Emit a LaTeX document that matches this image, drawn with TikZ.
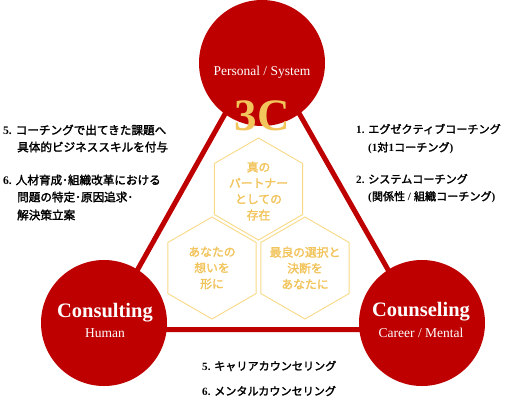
\documentclass[tikz,border=0pt]{standalone}
\usepackage{fontspec}
\setmainfont{Liberation Serif}
\newfontfamily\jp[AutoFakeBold=2]{Noto Sans CJK JP}
\usetikzlibrary{shapes.geometric}
\definecolor{cred}{HTML}{BE0000}
\definecolor{hexline}{HTML}{F8DA86}
\definecolor{gold}{HTML}{F2C45C}
\tikzset{
  circ/.style={circle, fill=cred, minimum size=126pt, inner sep=0pt},
  tri/.style={draw=cred, line width=5pt, line join=miter},
  hexa/.style={regular polygon, regular polygon sides=6, shape border rotate=30,
    minimum size=102pt, inner sep=0pt, draw=hexline, line width=0.9pt},
  hextxt/.style={text=gold, align=center, inner sep=0pt,
    font=\jp\bfseries\fontsize{11.8}{16}\selectfont},
  big/.style={text=white, inner sep=0pt, font=\bfseries\fontsize{20.5}{22}\selectfont},
  small/.style={text=white, inner sep=0pt, font=\fontsize{13.5}{15}\selectfont},
  item/.style={anchor=west, inner sep=0pt, text=black, font=\fontsize{11.6}{14}\selectfont},
  itemr/.style={item, font=\fontsize{11.1}{14}\selectfont},
}
\newcommand{\jb}[1]{{\jp\bfseries #1}}
\begin{document}
\begin{tikzpicture}[x=1pt,y=-1pt]
\useasboundingbox[fill=white] (0,0) rectangle (511,410);
% triangle
\coordinate (tv) at (262,48);
\coordinate (lv) at (104,329.5);
\coordinate (rv) at (422,329.5);
\draw[tri] (tv) -- (lv) -- (rv) -- cycle;
% circles
\node[circ] (ctop) at (262,63) {};
\node[circ] (cleft) at (104,323) {};
\node[circ] (cright) at (422,323) {};
\node[small] (ttop) at (262,72) {Personal / System};
\node[big] (tleft) at (105,313) {Consulting};
\node[small] (tleft2) at (105,333) {Human};
\node[big] (tright) at (421,312) {Counseling};
\node[small] (tright2) at (421,333) {Career / Mental};
\node[text=gold, inner sep=0pt, font=\bfseries\fontsize{45}{45}\selectfont] (three) at (262,116) {3C};
% hexagons
\node[hexa] (h1) at (258.5,189) {};
\node[hexa] (h2) at (212,268) {};
\node[hexa] (h3) at (305,268) {};
\node[hextxt] (h1t) at (258.5,191) {真の\\パートナー\\としての\\存在};
\node[hextxt] (h2t) at (212,268) {あなたの\\想いを\\形に};
\node[hextxt] (h3t) at (305,268) {最良の選択と\\決断を\\あなたに};
% left texts
\node[item] (l1) at (3,130) {\textbf{5.} \jb{コーチングで出てきた課題へ}};
\node[item] (l2) at (17,147) {\jb{具体的ビジネススキルを付与}};
\node[item] (l3) at (3,180) {\textbf{6.} \jb{人材育成･組織改革における}};
\node[item] (l4) at (17,197) {\jb{問題の特定･原因追求･}};
\node[item] (l5) at (17,215) {\jb{解決策立案}};
% right texts
\node[itemr] (r1) at (356,129) {\textbf{1.} \jb{エグゼクティブコーチング}};
\node[itemr] (r2) at (368,148) {\textbf{(1}\jb{対}\textbf{1}\jb{コーチング}\textbf{)}};
\node[itemr] (r3) at (356,179) {\textbf{2.} \jb{システムコーチング}};
\node[itemr] (r4) at (368,197) {\textbf{(}\jb{関係性}\textbf{ / }\jb{組織コーチング}\textbf{)}};
% bottom texts
\node[itemr] (b1) at (202,366) {\textbf{5.} \jb{キャリアカウンセリング}};
\node[itemr] (b2) at (202,391) {\textbf{6.} \jb{メンタルカウンセリング}};
\end{tikzpicture}
\end{document}
